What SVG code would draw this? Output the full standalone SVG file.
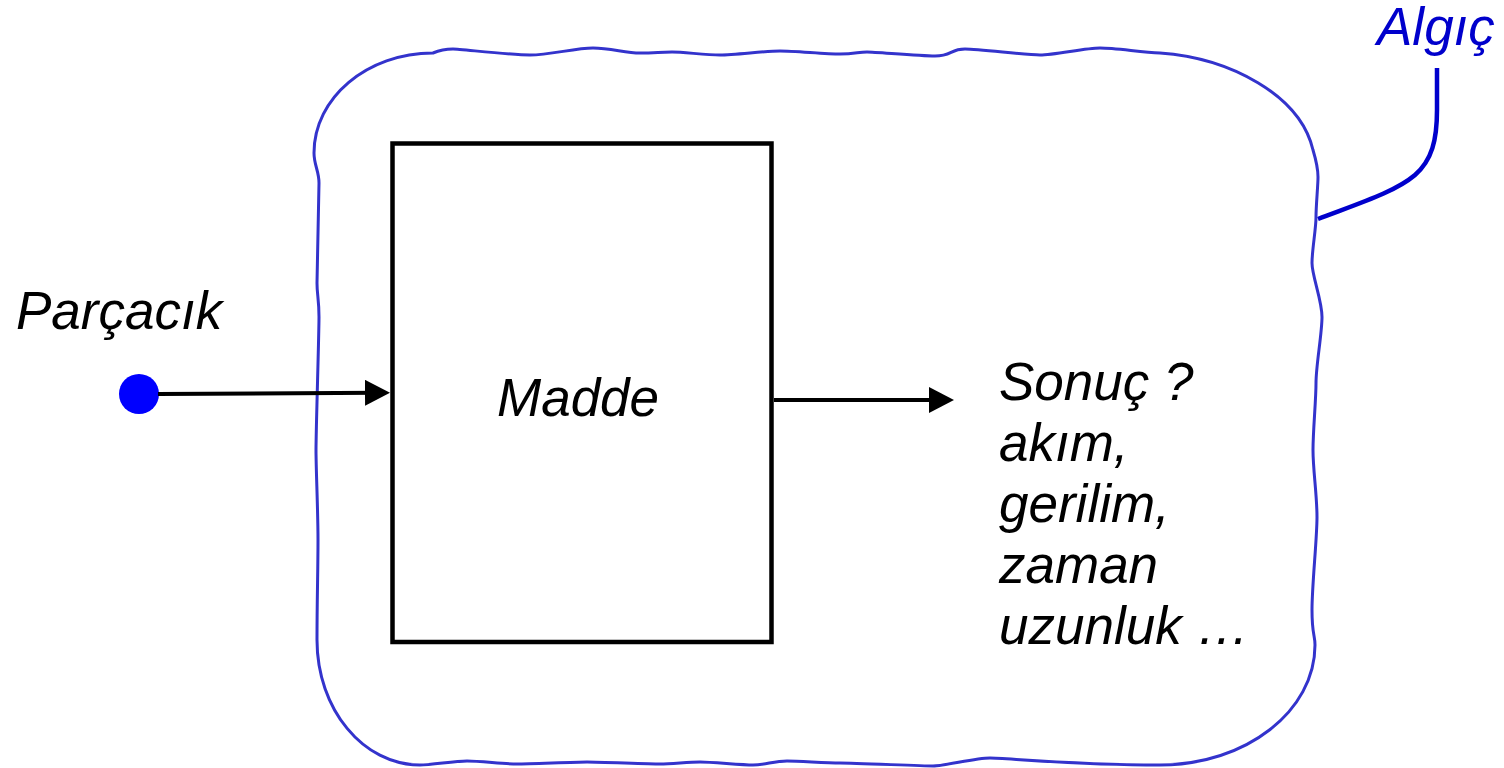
<svg xmlns="http://www.w3.org/2000/svg" width="1504" height="768" viewBox="0 0 1504 768">
<style>
.t{font-family:"Liberation Sans",Arial,sans-serif;font-style:italic;font-size:53px;fill:#000}
.blob{fill:none;stroke:#3333cc;stroke-width:3;stroke-linejoin:round}
.conn{stroke:#000;stroke-width:4;fill:none}
</style>
<defs>
<marker id="ah" markerUnits="userSpaceOnUse" markerWidth="26" markerHeight="28" refX="14" refY="13" orient="auto">
<path d="M0 0 L25 13 L0 26 Z" fill="#000"/>
</marker>
</defs>
<rect width="1504" height="768" fill="#fff"/>
<g id="detector">
<path class="blob" d="M 433 53 C 440 50 446 49 453 49 S 510 55 530 55 S 575 48 593 48 S 625 53 640 53 S 660 52 672 52 S 705 55 720 55 S 765 51 780 51 S 825 54 840 54 S 858 52 867 52 S 918 56 935 56 S 950 49 965 49 S 1025 55 1040 55 S 1085 48 1100 48 S 1140 52 1160 53 C 1230 58 1300 95 1313 150 C 1316 160 1318 168 1318 177 S 1316 205 1316 217 S 1312 250 1312 263 S 1322 300 1322 317 S 1316 365 1316 383 S 1313 430 1313 450 S 1317 495 1317 517 S 1312 585 1312 610 S 1315 635 1315 645 C 1315 711 1246 765 1160 765 S 1005 758 990 758 S 945 766 933 766 S 855 763 840 763 S 800 761 787 761 S 765 765 753 765 S 712 762 700 762 S 672 764 660 764 S 600 762 587 762 S 530 764 517 764 S 480 761 467 761 S 432 765 420 765 C 363 765 317 709 317 640 C 317 600 318 570 318 540 S 316 470 316 450 S 319 335 319 317 S 317 295 317 283 S 319 195 319 183 S 314 165 314 153 C 314 98 367 53 433 53 Z"/>
<path d="M 1318 219 C 1360 203 1395 192 1415 175 C 1432 160 1437 140 1437 110 L 1437 68" fill="none" stroke="#0000cc" stroke-width="4.5"/>
<text x="1377" y="45" class="t" style="fill:#0000cc">Algıç</text>
</g>
<g id="particle">
<circle cx="139" cy="394" r="20" fill="#0000ff"/>
<text x="16" y="329" class="t">Parçacık</text>
</g>
<g id="madde">
<rect x="392.5" y="143.5" width="379" height="498.5" fill="none" stroke="#000" stroke-width="4.5"/>
<text x="497" y="416" class="t">Madde</text>
</g>
<g id="result">
<text class="t"><tspan x="999" y="400">Sonuç ?</tspan><tspan x="999" y="461">akım,</tspan><tspan x="999" y="522">gerilim,</tspan><tspan x="999" y="583">zaman</tspan><tspan x="999" y="644">uzunluk …</tspan></text>
</g>
<g id="connectors">
<line class="conn" x1="158" y1="394" x2="379" y2="392.7" marker-end="url(#ah)"/>
<line class="conn" x1="774" y1="400" x2="943" y2="400" marker-end="url(#ah)"/>
</g>
</svg>
